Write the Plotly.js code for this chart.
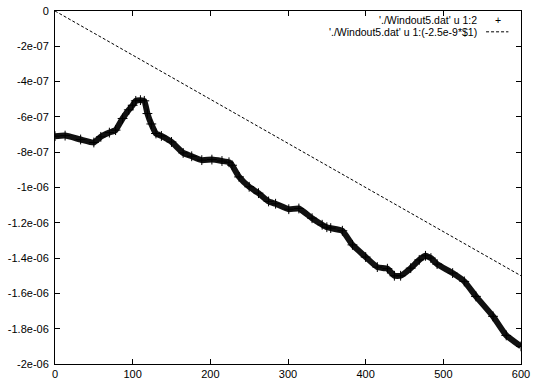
<!DOCTYPE html>
<html>
<head>
<meta charset="utf-8">
<script src="https://cdn.plot.ly/plotly-3.0.1.min.js"></script>
<style>html,body{margin:0;padding:0;background:#fff;}#chart{width:534px;height:382px;}</style>
</head>
<body>
<div id="chart"></div>
<script>
// Data
const dataX = [0, 13, 33, 50, 59, 70, 78, 87, 95, 100, 104, 110, 115, 119, 124, 130, 137, 150, 165, 176, 189, 202, 215, 224, 228, 237, 250, 262, 275, 284, 301, 314, 331, 344, 350, 355, 370, 383, 400, 415, 428, 437, 445, 458, 469, 477, 484, 492, 512, 527, 542, 564, 581, 600];
const dataYe7 = [-7.09, -7.06, -7.28, -7.45, -7.13, -6.89, -6.75, -6.09, -5.6, -5.34, -5.09, -5.05, -5.09, -5.81, -6.4, -6.94, -7.08, -7.42, -8.04, -8.23, -8.45, -8.42, -8.5, -8.57, -8.74, -9.4, -9.96, -10.32, -10.79, -10.92, -11.23, -11.19, -11.74, -12.11, -12.25, -12.3, -12.45, -13.25, -13.94, -14.51, -14.6, -15.0, -15.0, -14.57, -14.1, -13.87, -14.0, -14.34, -14.85, -15.32, -16.17, -17.3, -18.38, -19.0];
const dataY = dataYe7.map(v => v * 1e-7);
const refX = [0, 600];
const refY = [0, -1.5e-6];
const xTicks = [0, 100, 200, 300, 400, 500, 600];
const yTickVals = [0, -2e-7, -4e-7, -6e-7, -8e-7, -1e-6, -1.2e-6, -1.4e-6, -1.6e-6, -1.8e-6, -2e-6];
const yTickText = ["0", "-2e-07", "-4e-07", "-6e-07", "-8e-07", "-1e-06", "-1.2e-06", "-1.4e-06", "-1.6e-06", "-1.8e-06", "-2e-06"];
const legendLabels = ["'./Windout5.dat' u 1:2", "'./Windout5.dat' u 1:(-2.5e-9*$1)"];

const font = {family: "Liberation Sans, Arial, sans-serif", size: 11, color: "#000"};
const legendFont = {family: "Liberation Sans, Arial, sans-serif", size: 10.5, color: "#000"};

const traces = [
  {x: refX, y: refY, mode: "lines", line: {color: "#000", width: 1, dash: "3px,2px"}, showlegend: false, hoverinfo: "skip"},
  {x: dataX, y: dataY, mode: "lines", line: {color: "#111", width: 6, shape: "spline", smoothing: 0.4}, showlegend: false},
  {x: dataX, y: dataY, mode: "markers", marker: {symbol: "cross-thin", size: 7, line: {color: "#000", width: 1}}, showlegend: false}
];

const layout = {
  width: 534, height: 382,
  margin: {l: 55, r: 13, t: 11, b: 18},
  paper_bgcolor: "#fff", plot_bgcolor: "#fff",
  font: font,
  showlegend: false,
  xaxis: {range: [0, 600], tickvals: xTicks, ticks: "inside", ticklen: 5, tickcolor: "#000",
          showline: true, linecolor: "#000", linewidth: 1, mirror: "ticks", showgrid: false, zeroline: false,
          tickfont: font, fixedrange: true},
  yaxis: {range: [-2e-6, 0], tickvals: yTickVals, ticktext: yTickText, ticks: "inside", ticklen: 5, tickcolor: "#000",
          showline: true, linecolor: "#000", linewidth: 1, mirror: "ticks", showgrid: false, zeroline: false,
          tickfont: font, fixedrange: true, ticklabelstandoff: 3},
  annotations: [
    {xref: "paper", yref: "paper", x: 0.908, y: 0.975, xanchor: "right", yanchor: "middle", text: legendLabels[0], showarrow: false, font: legendFont, borderpad: 0},
    {xref: "paper", yref: "paper", x: 0.908, y: 0.941, xanchor: "right", yanchor: "middle", text: legendLabels[1], showarrow: false, font: legendFont, borderpad: 0},
    {xref: "paper", yref: "paper", x: 0.95, y: 0.975, xanchor: "center", yanchor: "middle", text: "+", showarrow: false, font: legendFont, borderpad: 0}
  ],
  shapes: [
    {type: "line", xref: "paper", yref: "paper", x0: 0.925, x1: 0.973, y0: 0.941, y1: 0.941, line: {color: "#000", width: 1, dash: "3px,2px"}}
  ]
};

Plotly.newPlot("chart", traces, layout, {displayModeBar: false, staticPlot: true});
</script>
</body>
</html>
